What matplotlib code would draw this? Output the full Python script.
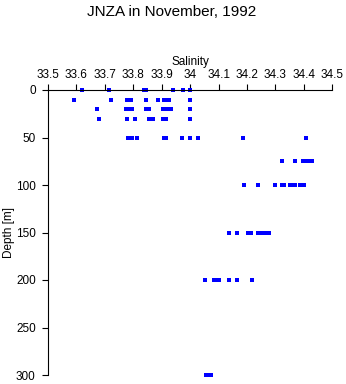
import matplotlib
matplotlib.use("Agg")
import matplotlib.pyplot as plt

plt.rcParams['font.family'] = ['Liberation Sans', 'DejaVu Sans']

# salinity readings per sampled depth (m)
depths = [0, 10, 20, 30, 50, 75, 100, 150, 200, 300]
salinity = [
    [33.619, 33.716, 33.836, 33.846, 33.938, 33.975, 34.001],
    [33.59, 33.721, 33.777, 33.785, 33.793, 33.843, 33.888, 33.907, 33.917, 33.926, 34.0],
    [33.671, 33.776, 33.785, 33.797, 33.845, 33.857, 33.903, 33.912, 33.92, 33.934, 34.0],
    [33.681, 33.778, 33.805, 33.855, 33.869, 33.906, 33.914, 34.0],
    [33.783, 33.795, 33.812, 33.907, 33.914, 33.973, 34.0, 34.029, 34.187, 34.409],
    [34.324, 34.37, 34.396, 34.408, 34.418, 34.427],
    [34.191, 34.239, 34.297, 34.322, 34.329, 34.351, 34.36, 34.369, 34.385, 34.402],
    [34.135, 34.165, 34.204, 34.214, 34.24, 34.25, 34.262, 34.27, 34.278],
    [34.051, 34.085, 34.094, 34.103, 34.135, 34.166, 34.219],
    [34.055, 34.063, 34.072],
]
x_ticks = [33.5, 33.6, 33.7, 33.8, 33.9, 34.0, 34.1, 34.2, 34.3, 34.4, 34.5]
x_tick_labels = ["33.5", "33.6", "33.7", "33.8", "33.9", "34", "34.1", "34.2", "34.3", "34.4", "34.5"]
y_ticks = [0, 50, 100, 150, 200, 250, 300]

W, H = 346, 384
fig = plt.figure(figsize=(W / 100, H / 100), dpi=100)
ax = fig.add_axes([48 / W, 1 - 375 / H, (332.3 - 48) / W, (375 - 90) / H])

for d, vals in zip(depths, salinity):
    ax.plot(vals, [d] * len(vals), linestyle="none", marker="s", markersize=2.2,
            color="#0000ff", markeredgewidth=0, clip_on=False)

ax.set_xlim(33.5, 34.5)
ax.set_ylim(300, 0)
ax.set_xticks(x_ticks)
ax.set_xticklabels(x_tick_labels)
ax.set_yticks(y_ticks)
ax.xaxis.tick_top()
ax.xaxis.set_label_position("top")
ax.set_xlabel("Salinity", fontsize=8.5, labelpad=3)
ax.set_ylabel("Depth [m]", fontsize=8.5)
ax.yaxis.set_label_coords(-0.115, 0.5)
ax.tick_params(axis="both", labelsize=8.5, length=4.3, width=0.8, direction="out")
ax.tick_params(axis="x", pad=2)
ax.tick_params(axis="y", pad=4.5)
for side in ["right", "bottom"]:
    ax.spines[side].set_visible(False)
for side in ["left", "top"]:
    ax.spines[side].set_linewidth(0.8)

fig.text(172 / W, 1 - 12 / H, "JNZA in November, 1992", ha="center", va="center", fontsize=11)

fig.savefig("out.png", dpi=100)
